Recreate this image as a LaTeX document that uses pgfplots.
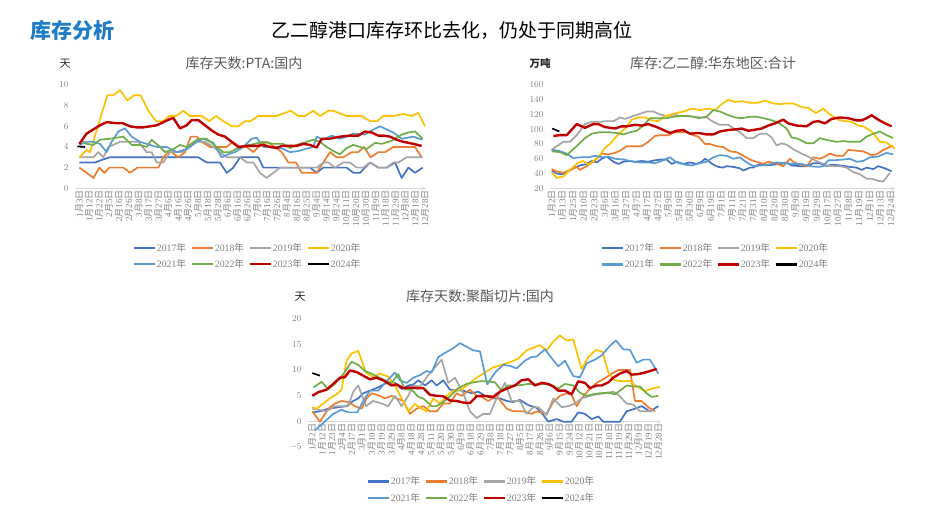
\documentclass[border=0pt]{standalone}
\usepackage{pgfplots}
\pgfplotsset{compat=1.18}
\usepackage{fontspec}
\setmainfont{Liberation Serif}
\newfontfamily\cjk{Noto Sans CJK SC}
\newcommand\mdl[2]{#1{\cjk 月}#2{\cjk 日}}
\newcommand\yr[1]{#1{\cjk 年}}
\definecolor{c17}{HTML}{4472C4}
\definecolor{c18}{HTML}{ED7D31}
\definecolor{c19}{HTML}{A5A5A5}
\definecolor{c20}{HTML}{FFC000}
\definecolor{c21}{HTML}{5B9BD5}
\definecolor{c22}{HTML}{70AD47}
\definecolor{c23}{HTML}{C00000}
\definecolor{c24}{HTML}{000000}
\definecolor{hdr}{RGB}{30,124,200}
\definecolor{titc}{HTML}{595959}
\definecolor{tickc}{HTML}{808080}
\definecolor{legc}{HTML}{7F7F7F}
\definecolor{gridc}{HTML}{D9D9D9}
\pgfplotsset{
  base/.style={
    scale only axis,
    axis y line=left,
    y axis line style={draw=none},
    x axis line style={-, draw=gridc, line width=0.8pt},
    tick style={draw=none},
    major tick length=0pt,
    xticklabel style={rotate=90, anchor=east, font=\fontsize{9}{9}\selectfont, text=tickc, inner sep=2pt},
    yticklabel style={font=\fontsize{9}{9}\selectfont, text=tickc, xshift=-3pt},
    legend columns=4,
    legend cell align=left,
    legend style={draw=none, fill=none, inner sep=0pt, font=\fontsize{9.8}{10}\selectfont, text=legc,
      nodes={inner sep=1.2pt}, /tikz/every even column/.append style={column sep=3pt}, row sep=4pt},
    legend image code/.code={\draw[##1, line width=2.2pt] (0pt,0pt) -- (21pt,0pt);},
    every axis plot/.append style={line width=1.7pt, line join=round, mark=none},
  },
  y23/.style={c23, line width=2.4pt},
}
\begin{document}
\begin{tikzpicture}
\useasboundingbox (0,0) rectangle (932pt,505pt);
\node[anchor=west, font={\cjk\bfseries\fontsize{21}{24}\selectfont}, text=hdr] at (27pt,475pt) {库存分析};
\node[font={\cjk\fontsize{19}{22}\selectfont}, text=black] at (452pt,475pt) {乙二醇港口库存环比去化，仍处于同期高位};
% titles and units
\node[font={\cjk\fontsize{14}{16}\selectfont}, text=titc] at (244pt,441.5pt) {库存天数:PTA:国内};
\node[font={\cjk\fontsize{14}{16}\selectfont}, text=titc] at (713pt,442pt) {库存:乙二醇:华东地区:合计};
\node[font={\cjk\fontsize{14}{16}\selectfont}, text=titc] at (480pt,209pt) {库存天数:聚酯切片:国内};
\node[font={\cjk\fontsize{11}{12}\selectfont}, text=black!85] at (65pt,441pt) {天};
\node[font={\cjk\bfseries\fontsize{10.5}{12}\selectfont}, text=black!85] at (540pt,441pt) {万吨};
\node[font={\cjk\fontsize{11}{12}\selectfont}, text=black!85] at (300pt,208pt) {天};

% ---------------- Chart 1: PTA
\begin{axis}[base, at={(75pt,316.7pt)}, anchor=south west, width=351pt, height=103.3pt,
  axis x line=bottom, xmin=-0.44, xmax=35.1, ymin=0, ymax=10, ytick={0,2,...,10},
  xtick={0,...,35},
  xticklabels={\mdl{1}{3},\mdl{1}{12},\mdl{1}{22},\mdl{2}{5},\mdl{2}{16},\mdl{2}{26},\mdl{3}{8},\mdl{3}{17},\mdl{3}{27},\mdl{4}{6},\mdl{4}{16},\mdl{4}{26},\mdl{5}{8},\mdl{5}{18},\mdl{5}{28},\mdl{6}{6},\mdl{6}{16},\mdl{6}{26},\mdl{7}{6},\mdl{7}{16},\mdl{7}{26},\mdl{8}{4},\mdl{8}{16},\mdl{8}{25},\mdl{9}{4},\mdl{9}{14},\mdl{9}{24},\mdl{10}{11},\mdl{10}{20},\mdl{10}{30},\mdl{11}{9},\mdl{11}{18},\mdl{11}{29},\mdl{12}{8},\mdl{12}{18},\mdl{12}{28}},
  legend style={at={(0.49,-0.515)}, anchor=north}]
\addplot[c17] coordinates {(0,2.5)(1.59,2.5)(2.43,2.8)(3.10,3.0)(12.05,3.0)(12.89,2.5)(14.24,2.5)(14.92,1.5)(15.59,2.0)(16.27,3.0)(18.12,3.0)(18.63,2.0)(23.35,2.0)(24.03,1.5)(24.70,2.0)(27.07,2.0)(27.74,1.5)(28.42,1.5)(29.43,2.5)(30.27,2.0)(31.12,2.0)(31.96,2.5)(32.64,1.0)(33.31,2.0)(33.99,1.5)(34.76,2.0)};
\addplot[c18] coordinates {(0,2.0)(0.74,1.5)(1.42,1.0)(2.02,2.0)(2.53,1.5)(3.04,2.0)(4.45,2.0)(5.13,1.5)(5.87,2.0)(8.00,2.0)(8.50,3.0)(9.01,3.5)(9.35,3.5)(10.02,3.0)(10.70,3.5)(11.27,5.0)(11.88,5.0)(12.39,4.5)(13.23,4.0)(14.92,4.0)(15.52,4.5)(16.27,4.0)(16.94,4.0)(17.62,3.5)(18.12,4.0)(18.97,4.5)(19.81,4.0)(20.49,3.5)(21.16,2.5)(21.94,2.5)(22.51,1.5)(24.03,1.5)(24.70,2.5)(25.38,3.5)(26.05,3.0)(26.73,3.0)(27.57,3.5)(28.25,3.5)(28.82,4.0)(29.50,3.0)(30.27,3.5)(30.95,3.5)(31.79,4.0)(33.99,4.0)(34.66,3.0)};
\addplot[c19] coordinates {(0,3.0)(1.42,3.0)(1.92,3.5)(2.43,3.0)(2.94,4.0)(4.12,4.5)(5.97,4.5)(6.82,3.5)(7.32,3.5)(7.83,2.5)(8.50,2.5)(9.18,3.5)(10.36,3.5)(11.20,4.0)(11.88,4.5)(12.72,4.5)(13.57,4.0)(14.24,3.5)(14.92,3.0)(16.27,3.0)(16.94,2.5)(17.62,2.5)(18.29,1.5)(18.97,1.0)(19.64,1.5)(20.32,2.0)(24.03,2.0)(24.70,2.5)(25.21,2.5)(25.89,2.0)(26.73,2.5)(27.40,2.5)(28.08,2.0)(28.75,2.0)(29.43,2.5)(30.27,2.0)(31.12,2.0)(31.79,2.5)(32.30,2.5)(33.14,3.0)(34.76,3.0)};
\addplot[c20] coordinates {(0,3.0)(0.74,3.7)(1.08,3.5)(2.83,9.0)(3.44,9.0)(4.12,9.5)(4.86,8.5)(5.53,9.0)(6.21,9.0)(6.99,7.5)(7.76,6.5)(8.50,6.5)(9.11,7.0)(9.79,7.0)(10.53,7.5)(11.20,7.0)(12.39,7.0)(13.16,6.5)(13.84,7.0)(14.58,6.5)(15.42,6.0)(16.10,6.0)(16.77,6.5)(17.35,6.5)(18.12,7.0)(19.98,7.0)(21.40,7.5)(22.17,7.0)(22.85,7.0)(23.69,7.5)(24.37,7.0)(25.21,7.5)(25.72,7.5)(27.07,7.0)(28.59,7.0)(29.43,6.5)(30.17,6.5)(30.78,7.0)(31.79,7.0)(32.80,7.2)(33.65,7.0)(34.32,7.3)(35.00,6.0)};
\addplot[c21] coordinates {(0,4.2)(0.74,4.5)(1.42,4.5)(2.09,4.3)(2.77,3.5)(3.27,4.5)(3.95,5.5)(4.62,5.8)(5.30,5.0)(6.14,4.5)(6.82,4.3)(7.83,4.0)(8.84,4.0)(9.85,3.5)(10.87,3.8)(11.88,4.5)(12.55,4.8)(13.57,4.4)(14.41,3.0)(15.09,3.3)(15.76,3.5)(16.60,4.0)(17.45,4.8)(17.95,4.9)(18.63,4.0)(19.98,4.0)(20.65,3.8)(21.33,3.5)(22.17,3.6)(22.85,3.8)(23.69,4.0)(24.03,5.0)(24.70,4.7)(25.55,5.1)(26.39,4.8)(27.07,5.0)(27.74,5.3)(28.92,5.2)(29.60,5.6)(30.44,6.0)(31.12,5.7)(31.79,5.4)(32.64,4.8)(33.82,5.0)(34.76,4.7)};
\addplot[c22] coordinates {(0.24,4.6)(0.74,4.3)(1.42,4.2)(2.09,4.7)(3.10,4.8)(4.45,5.0)(5.30,4.2)(6.14,4.2)(6.82,4.0)(7.32,4.7)(8.17,4.0)(8.67,3.5)(9.52,3.8)(10.19,4.2)(10.87,4.0)(12.05,4.8)(12.89,4.8)(13.90,4.0)(14.58,3.5)(15.25,3.5)(16.27,4.0)(17.28,4.2)(18.63,4.5)(19.64,4.3)(20.65,4.3)(21.33,3.9)(22.00,4.2)(23.02,4.5)(23.69,4.7)(24.37,4.5)(25.04,4.0)(25.72,3.6)(26.39,3.3)(27.07,3.9)(27.74,4.2)(29.09,3.8)(29.94,4.4)(30.61,4.3)(31.62,4.6)(32.64,5.2)(33.31,5.4)(33.99,5.5)(34.76,4.8)};
\addplot[y23] coordinates {(0,4.3)(0.74,5.3)(1.59,5.8)(2.09,6.1)(2.77,6.4)(3.78,6.3)(4.39,6.3)(5.13,6.0)(5.80,5.9)(6.48,5.9)(7.15,6.0)(7.83,6.1)(8.50,6.4)(9.18,6.7)(9.52,6.8)(10.19,5.8)(10.87,6.1)(11.37,6.6)(12.05,6.6)(12.72,6.1)(13.40,5.6)(14.07,5.2)(14.75,5.0)(15.42,4.5)(16.10,4.0)(16.94,4.1)(17.95,4.1)(18.63,4.2)(19.30,4.0)(19.98,3.9)(20.49,4.1)(22.00,4.1)(22.68,4.3)(23.35,4.2)(24.03,3.95)(24.54,4.8)(25.38,4.8)(26.39,5.0)(27.40,5.1)(28.25,5.1)(28.92,5.5)(29.60,5.4)(30.27,5.1)(30.78,5.1)(31.45,5.0)(32.13,4.7)(32.80,4.5)(33.82,4.3)(34.66,4.1)};
\addplot[c24] coordinates {(-0.2,4.05)(0.57,4.0)};
\legend{\yr{2017},\yr{2018},\yr{2019},\yr{2020},\yr{2021},\yr{2022},\yr{2023},\yr{2024}}
\end{axis}

% ---------------- Chart 2: MEG East China
\begin{axis}[base, at={(550pt,316.7pt)}, anchor=south west, width=345pt, height=103.3pt,
  axis x line=bottom, xmin=-0.16, xmax=32.4, ymin=20, ymax=160, ytick={20,40,...,160},
  xtick={0,...,32},
  xticklabels={\mdl{1}{2},\mdl{1}{13},\mdl{1}{25},\mdl{2}{10},\mdl{2}{23},\mdl{3}{6},\mdl{3}{16},\mdl{3}{27},\mdl{4}{7},\mdl{4}{17},\mdl{4}{27},\mdl{5}{9},\mdl{5}{19},\mdl{5}{30},\mdl{6}{9},\mdl{6}{19},\mdl{7}{1},\mdl{7}{11},\mdl{7}{21},\mdl{7}{31},\mdl{8}{10},\mdl{8}{20},\mdl{8}{30},\mdl{9}{9},\mdl{9}{19},\mdl{9}{29},\mdl{10}{17},\mdl{10}{27},\mdl{11}{8},\mdl{11}{19},\mdl{12}{1},\mdl{12}{13},\mdl{12}{24}},
  legend style={at={(0.478,-0.52)}, anchor=north}]
\addplot[c17] coordinates {(0,44)(0.47,40)(0.94,39)(1.42,42)(2.20,48)(2.67,51)(3.30,53)(3.77,57)(4.25,55)(4.72,60)(5.19,63)(5.82,56)(6.29,53)(6.76,56)(7.39,57)(7.86,56)(8.49,57)(9.12,56)(9.75,58)(10.38,59)(10.85,59)(11.32,53)(11.79,56)(12.42,53)(13.05,55)(13.68,53)(14.15,56)(14.47,60)(14.78,57)(15.25,52)(15.72,49)(16.19,48)(16.51,50)(17.14,49)(17.77,47)(18.08,44)(18.71,48)(19.03,48)(19.50,52)(20.28,51)(20.91,52)(21.70,53)(22.17,55)(22.64,51)(23.43,50)(24.06,50)(24.69,54)(25.31,54)(25.94,50)(26.42,52)(27.20,51)(27.67,50)(28.14,49)(28.77,48)(29.25,45)(29.72,48)(30.35,46)(30.82,50)(31.45,47)(32.08,43)};
\addplot[c18] coordinates {(0,46)(0.47,43)(1.10,41)(1.73,45)(2.36,49)(2.67,45)(3.30,50)(3.93,56)(4.40,62)(4.72,67)(5.35,66)(5.97,68)(6.45,71)(7.08,77)(7.86,77)(8.49,77)(9.12,83)(9.75,91)(10.38,92)(11.01,92)(11.64,96)(12.42,96)(12.74,96)(13.36,92)(13.84,90)(14.47,80)(14.94,80)(15.57,77)(16.19,76)(16.82,70)(17.45,69)(18.08,64)(18.71,59)(19.50,55)(19.97,53)(20.44,56)(21.07,54)(21.86,50)(22.48,60)(22.80,56)(23.43,52)(24.06,50)(24.69,62)(25.31,60)(25.79,63)(26.26,67)(26.89,64)(27.52,64)(27.99,72)(28.77,71)(29.40,70)(30.19,65)(30.66,66)(31.29,72)(32.2,78)};
\addplot[c19] coordinates {(0,72)(0.47,77)(1.10,83)(1.73,83)(2.36,92)(3.14,107)(3.77,110)(4.56,110)(5.19,111)(5.82,111)(6.45,116)(6.92,114)(7.70,118)(8.33,121)(8.96,124)(9.59,124)(10.22,120)(10.85,118)(11.48,120)(12.11,118)(12.74,118)(13.36,117)(14.15,116)(14.62,116)(15.25,110)(15.88,106)(16.67,106)(17.30,100)(17.77,96)(18.40,88)(19.03,88)(19.65,94)(20.28,94)(20.75,89)(21.23,78)(21.70,81)(22.17,79)(22.80,73)(23.58,67)(24.21,63)(24.84,58)(25.31,55)(25.94,51)(26.57,50)(27.20,50)(27.83,48)(28.46,42)(29.09,39)(29.72,33)(30.19,33)(30.82,30)(31.29,29)(31.92,41)};
\addplot[c20] coordinates {(0,42)(0.47,34)(1.10,36)(1.73,45)(2.52,55)(2.99,57)(3.46,52)(3.93,57)(4.56,65)(5.03,75)(5.50,80)(5.97,88)(6.45,95)(7.08,103)(7.55,113)(8.18,116)(8.81,116)(9.43,112)(10.06,111)(10.69,118)(11.32,120)(11.79,122)(12.42,124)(13.21,128)(13.99,126)(14.78,128)(15.41,126)(16.04,134)(16.67,140)(17.30,137)(17.92,138)(18.71,136)(19.50,136)(20.13,139)(20.91,135)(21.54,134)(22.17,135)(22.80,135)(23.58,130)(24.21,129)(24.94,122)(25.63,128)(26.26,120)(27.04,113)(27.67,111)(28.30,110)(28.93,105)(29.40,104)(30.19,97)(30.97,83)(31.60,82)(32.39,74)};
\addplot[c21] coordinates {(0,72)(0.63,71)(1.26,68)(2.04,61)(2.67,62)(3.46,62)(4.09,64)(4.87,62)(5.35,63)(5.97,60)(6.76,59)(7.70,56)(8.33,55)(9.12,55)(9.75,54)(10.38,57)(11.16,62)(11.79,55)(12.58,52)(13.21,51)(13.99,54)(14.62,56)(15.25,62)(15.88,65)(16.51,64)(17.14,60)(17.77,62)(18.40,55)(19.03,50)(19.81,51)(20.44,52)(21.23,55)(22.01,54)(22.80,53)(23.58,53)(24.37,50)(25.16,49)(25.63,50)(26.10,58)(26.73,58)(27.52,59)(28.14,60)(28.77,56)(29.40,57)(30.03,62)(30.82,63)(31.60,68)(32.23,66)};
\addplot[c22] coordinates {(0,70)(0.79,69)(1.42,65)(2.20,75)(3.14,88)(3.77,94)(4.56,96)(5.35,96)(6.13,95)(6.76,93)(7.39,96)(8.02,98)(8.65,105)(9.28,115)(10.06,115)(10.85,115)(11.48,117)(12.11,118)(13.05,118)(13.84,115)(14.62,117)(15.25,126)(15.88,124)(16.51,120)(17.30,116)(17.92,115)(18.71,117)(19.34,117)(19.97,115)(20.60,113)(21.38,109)(22.17,101)(22.64,89)(23.27,87)(24.06,81)(24.69,81)(25.31,88)(26.10,85)(26.89,83)(27.52,84)(28.14,83)(29.09,83)(29.72,90)(30.35,94)(30.97,97)(31.60,92)(32.23,88)};
\addplot[y23] coordinates {(0.16,91)(0.79,92)(1.42,92)(2.36,107)(3.14,102)(3.93,107)(4.40,107)(5.03,103)(5.97,101)(6.60,104)(7.08,104)(7.86,106)(8.49,105)(9.12,107)(9.91,103)(10.53,99)(11.16,95)(11.79,98)(12.42,99)(13.05,94)(13.84,95)(14.62,93)(15.25,93)(15.88,97)(16.67,99)(17.45,100)(17.92,101)(18.55,98)(19.03,99)(19.81,101)(20.44,105)(21.07,108)(21.86,113)(22.33,108)(23.11,105)(24.06,104)(24.69,110)(25.16,111)(25.79,108)(26.42,114)(27.20,116)(27.99,115)(28.77,112)(29.25,112)(29.72,115)(30.19,119)(30.82,113)(31.45,108)(32.08,104)};
\addplot[c24] coordinates {(0.06,101)(0.72,97)};
\legend{\yr{2017},\yr{2018},\yr{2019},\yr{2020},\yr{2021},\yr{2022},\yr{2023},\yr{2024}}
\end{axis}

% ---------------- Chart 3: polyester chips
\begin{axis}[base, at={(308pt,57.5pt)}, anchor=south west, width=353pt, height=129.2pt,
  axis x line=middle, xmin=-0.43, xmax=35.27, ymin=-5, ymax=20, ytick={-5,0,...,20},
  xtick={0,...,35},
  xticklabels={\mdl{1}{2},\mdl{1}{12},\mdl{1}{23},\mdl{2}{4},\mdl{2}{17},\mdl{3}{1},\mdl{3}{10},\mdl{3}{19},\mdl{3}{29},\mdl{4}{8},\mdl{4}{18},\mdl{4}{28},\mdl{5}{11},\mdl{5}{20},\mdl{5}{30},\mdl{6}{9},\mdl{6}{18},\mdl{6}{29},\mdl{7}{8},\mdl{7}{18},\mdl{7}{27},\mdl{8}{5},\mdl{8}{17},\mdl{8}{26},\mdl{9}{6},\mdl{9}{15},\mdl{9}{24},\mdl{10}{12},\mdl{10}{21},\mdl{10}{31},\mdl{11}{10},\mdl{11}{19},\mdl{11}{29},\mdl{12}{9},\mdl{12}{19},\mdl{12}{28}},
  legend style={at={(0.49,-0.215)}, anchor=north}]
\addplot[c17] coordinates {(0,1.8)(0.78,2.0)(1.62,2.5)(2.63,2.8)(3.47,3.0)(4.15,4.0)(4.65,4.5)(5.16,5.5)(5.83,6.0)(6.51,6.5)(7.52,7.5)(8.36,7.5)(9.04,6.3)(9.71,7.0)(10.22,7.2)(10.72,8.0)(11.40,7.0)(12.07,8.0)(12.58,7.0)(13.25,8.0)(13.92,6.2)(14.60,6.0)(15.27,6.0)(16.12,5.5)(16.79,5.8)(17.46,5.0)(18.31,4.5)(18.98,4.5)(19.66,4.0)(20.33,3.8)(21.00,4.2)(21.85,3.2)(22.69,2.7)(23.36,1.3)(23.87,0)(24.71,0.5)(25.39,0)(26.23,0)(26.90,1.8)(27.58,1.5)(28.25,0.5)(28.93,1.0)(29.43,0)(30.44,0)(31.12,0)(31.79,2.0)(32.64,2.5)(33.31,3.0)(34.15,2.0)(35.00,3.0)};
\addplot[c18] coordinates {(0,2.0)(0.78,0)(1.62,2.5)(2.29,3.5)(2.97,4.0)(3.64,3.8)(4.32,3.0)(4.99,2.5)(5.50,4.5)(6.00,5.5)(6.84,5.0)(7.35,4.5)(8.02,5.0)(8.53,4.5)(9.20,4.0)(9.88,1.5)(10.55,2.5)(11.23,3.0)(11.90,2.0)(12.58,2.0)(13.25,3.5)(13.92,3.5)(14.60,5.5)(15.10,5.0)(15.95,6.2)(16.62,5.0)(17.13,4.8)(17.80,4.0)(18.64,5.0)(19.66,2.5)(20.33,2.0)(21.34,2.0)(22.18,1.5)(22.69,2.0)(23.70,1.5)(24.38,3.8)(25.05,5.0)(25.72,5.5)(26.23,5.2)(26.74,3.0)(27.24,4.5)(27.92,6.0)(28.76,7.5)(29.60,8.4)(30.28,9.3)(30.95,10.0)(32.13,10.0)(32.64,4.0)(33.31,4.0)(33.98,2.8)(34.66,2.0)};
\addplot[c19] coordinates {(0,2.5)(0.61,2.3)(1.45,2.0)(2.29,3.0)(3.64,3.0)(4.15,5.8)(4.65,7.0)(5.43,3.0)(6.17,4.0)(7.01,3.5)(7.69,3.0)(8.36,5.0)(9.04,3.0)(9.71,5.0)(10.22,7.0)(10.89,6.8)(11.73,9.0)(13.08,12.0)(13.76,7.5)(14.43,8.5)(15.27,5.5)(15.95,2.0)(16.62,0.7)(17.30,1.5)(17.97,1.5)(18.64,4.5)(19.49,7.5)(20.16,4.0)(21.00,4.0)(21.68,1.5)(22.35,2.8)(22.86,2.8)(23.70,1.3)(24.38,4.5)(25.22,2.8)(25.89,3.0)(26.57,3.5)(27.24,4.5)(28.08,5.0)(28.76,5.3)(29.60,5.5)(30.44,5.8)(30.95,5.2)(31.79,3.5)(32.47,3.3)(33.14,2.0)(33.82,2.0)(34.49,2.2)};
\addplot[c20] coordinates {(0,2.8)(0.44,2.5)(1.11,3.5)(1.79,4.5)(2.46,5.3)(2.97,6.2)(3.47,11.8)(3.98,13.2)(4.65,13.7)(5.43,9.5)(6.17,8.6)(6.84,9.3)(7.69,8.7)(8.36,7.0)(9.04,4.5)(9.71,2.0)(10.38,3.4)(10.89,2.7)(11.56,2.0)(12.24,4.5)(12.91,3.5)(13.59,5.0)(14.26,6.0)(15.10,6.2)(15.95,7.5)(16.62,8.5)(17.46,9.5)(18.31,10.5)(19.15,11.0)(19.99,11.5)(20.84,12.2)(21.68,13.8)(22.35,14.3)(23.03,14.8)(23.70,13.8)(24.38,15.5)(25.05,16.7)(25.72,15.7)(26.40,15.9)(27.24,10.2)(27.92,12.5)(28.69,13.9)(29.37,13.5)(29.94,9.5)(30.61,8.0)(31.46,7.8)(32.13,7.9)(32.81,6.8)(33.65,5.9)(34.49,6.5)(35.16,6.7)};
\addplot[c21] coordinates {(0.27,-1.7)(2.12,1.5)(2.97,2.3)(3.64,1.8)(4.55,1.8)(5.16,4.0)(5.83,6.0)(6.68,6.0)(7.35,7.5)(7.86,8.5)(8.36,9.5)(8.87,8.0)(9.54,7.5)(10.22,8.5)(10.89,9.0)(11.56,9.8)(12.07,9.5)(12.74,12.5)(13.42,13.3)(14.26,14.2)(14.94,15.2)(15.61,14.5)(16.28,13.8)(16.96,13.6)(17.70,7.2)(18.48,9.5)(19.32,11.0)(19.99,10.8)(20.67,10.3)(21.51,11.8)(22.18,12.5)(22.69,12.6)(23.53,14.0)(24.21,12.3)(24.88,10.7)(25.56,11.8)(26.40,8.8)(27.07,8.6)(27.75,11.3)(28.59,12.0)(29.26,12.8)(30.11,14.7)(30.71,15.7)(31.46,14.0)(32.13,13.9)(32.81,11.4)(33.48,12.0)(34.15,12.0)(35.00,9.3)};
\addplot[c22] coordinates {(0.10,6.6)(0.94,7.7)(1.62,6.3)(2.29,7.3)(3.14,9.2)(3.98,11.6)(4.65,11.0)(5.33,9.8)(6.00,9.3)(6.68,8.6)(7.35,8.0)(8.02,7.5)(8.70,9.2)(9.37,6.2)(10.05,6.2)(10.72,4.8)(11.23,4.5)(12.07,3.0)(12.58,3.0)(13.25,3.8)(14.09,5.2)(14.77,6.5)(15.61,7.3)(16.28,7.6)(16.96,7.8)(17.80,7.8)(18.48,7.6)(19.15,6.0)(19.82,7.0)(20.50,7.0)(21.17,7.1)(21.85,7.3)(22.69,7.2)(23.53,7.3)(24.21,7.0)(24.88,6.4)(25.56,7.3)(26.40,7.0)(27.07,5.6)(27.75,5.0)(28.42,5.3)(29.10,5.5)(29.94,5.6)(30.61,5.3)(31.12,6.0)(31.79,7.0)(32.47,6.8)(33.14,6.8)(33.82,5.5)(34.32,4.8)(35.00,5.0)};
\addplot[y23] coordinates {(0,5.0)(0.61,5.7)(1.45,6.2)(2.12,7.3)(2.80,8.5)(3.30,8.6)(3.81,9.9)(4.48,9.6)(5.16,8.9)(5.83,8.2)(6.51,8.5)(7.18,8.0)(8.02,7.0)(8.53,7.2)(9.20,6.5)(9.88,6.6)(10.55,6.5)(11.23,6.5)(11.90,5.2)(12.58,5.0)(13.25,4.9)(13.92,4.1)(14.60,4.0)(15.27,3.7)(15.95,3.6)(16.62,4.9)(17.30,5.0)(18.31,4.8)(18.98,5.8)(19.82,6.5)(20.50,7.0)(21.17,8.0)(21.85,8.2)(22.52,7.0)(23.20,7.5)(23.87,7.3)(24.38,6.8)(24.88,6.0)(25.56,6.0)(26.23,5.3)(26.90,7.8)(27.58,7.5)(28.08,6.5)(28.76,7.0)(29.26,7.0)(29.94,7.6)(30.44,8.5)(31.12,9.3)(31.79,9.8)(32.30,9.1)(32.97,9.2)(33.65,9.5)(34.83,10.2)};
\addplot[c24] coordinates {(0,9.4)(0.78,8.9)};
\legend{\yr{2017},\yr{2018},\yr{2019},\yr{2020},\yr{2021},\yr{2022},\yr{2023},\yr{2024}}
\end{axis}
\end{tikzpicture}
\end{document}
